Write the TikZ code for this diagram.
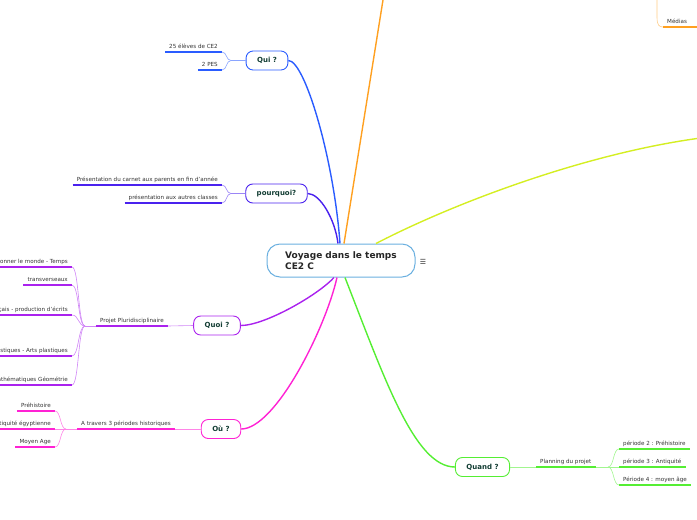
\documentclass[tikz,border=0pt]{standalone}
\usepackage{fontspec}
\setmainfont{DejaVu Sans}
\usetikzlibrary{calc}
\definecolor{ctrb}{HTML}{6BB0E0}
\definecolor{quib}{HTML}{2A5CFF}
\definecolor{pqb}{HTML}{4A22EE}
\definecolor{quoib}{HTML}{AA22EE}
\definecolor{oub}{HTML}{FF22D4}
\definecolor{qdb}{HTML}{55EE33}
\definecolor{org}{HTML}{FFA020}
\definecolor{yel}{HTML}{D4EE22}
\definecolor{txtgray}{HTML}{333333}
\definecolor{topictxt}{HTML}{123D33}
\begin{document}
\begin{tikzpicture}[x=1pt,y=-1pt,
  leaf/.style={inner xsep=4pt, inner ysep=1.8pt, text depth=1.4pt, font=\fontsize{5.6}{6.7}\selectfont, text=txtgray},
  topic/.style={draw=#1, line width=0.9pt, rounded corners=7pt, fill=white, minimum height=19pt, inner xsep=11pt, font=\fontsize{7}{8}\selectfont\bfseries, text=topictxt},
  mainc/.style={line width=1.4pt, draw=#1},
  subc/.style={line width=0.6pt, draw=#1!55},
  uline/.style={line width=1.8pt, draw=#1},
]
\useasboundingbox (0,0) rectangle (697,520);

% central node
\node[draw=ctrb, line width=1pt, rounded corners=13pt, fill=white, minimum width=148pt, minimum height=33pt, align=left, font=\fontsize{9}{11.5}\selectfont\bfseries, text=black!85] (ctr) at (341,260.5) {Voyage dans le temps\\CE2 C};
\node[font=\fontsize{7}{8}\selectfont, text=txtgray] (menu) at (423,262) {☰};

% topic nodes
\node[topic=quib] (qui) at (267,60.5) {Qui ?};
\node[topic=pqb] (pq) at (276.5,193.5) {pourquoi?};
\node[topic=quoib] (quoi) at (217,325.5) {Quoi ?};
\node[topic=oub] (ou) at (221,429) {Où ?};
\node[topic=qdb] (qd) at (482.5,467) {Quand ?};

% leaves
\node[leaf, anchor=south east] (qui1) at (222,52) {25 élèves de CE2};
\node[leaf, anchor=south east] (qui2) at (222,70) {2 PES};
\node[leaf, anchor=south east] (pq1) at (222,185) {Présentation du carnet aux parents en fin d'année};
\node[leaf, anchor=south east] (pq2) at (222,203) {présentation aux autres classes};
\node[leaf, anchor=south east] (pp) at (168,326) {Projet Pluridisciplinaire};
\node[leaf, anchor=south east] (qo1) at (72,267) {Questionner le monde - Temps};
\node[leaf, anchor=south east] (qo2) at (72,285) {transverseaux};
\node[leaf, anchor=south east] (qo3) at (72,315) {Français - production d'écrits};
\node[leaf, anchor=south east] (qo4) at (72,356) {Pratiques artistiques - Arts plastiques};
\node[leaf, anchor=south east] (qo5) at (72,385) {Mathématiques Géométrie};
\node[leaf, anchor=south east] (at) at (175,429) {A travers 3 périodes historiques};
\node[leaf, anchor=south east] (ou1) at (55,411) {Préhistoire};
\node[leaf, anchor=south east] (ou2) at (55,429) {Antiquité égyptienne};
\node[leaf, anchor=south east] (ou3) at (55,447) {Moyen Age};
\node[leaf, anchor=south west] (pl) at (536,467) {Planning du projet};
\node[leaf, anchor=south west] (qd1) at (619,449) {période 2 : Préhistoire};
\node[leaf, anchor=south west] (qd2) at (619,467) {période 3 : Antiquité};
\node[leaf, anchor=south west] (qd3) at (619,485) {Période 4 : moyen âge};
\node[leaf, anchor=south west] (med) at (663,27) {Médias};

% underlines
\foreach \n/\c in {qui1/quib,qui2/quib,pq1/pqb,pq2/pqb,pp/quoib,qo1/quoib,qo2/quoib,qo3/quoib,qo4/quoib,qo5/quoib,at/oub,ou1/oub,ou2/oub,ou3/oub,pl/qdb,qd1/qdb,qd2/qdb,qd3/qdb}
  \draw[uline=\c] (\n.south west) -- (\n.south east);
\draw[uline=org] (med.south west) -- ($(med.south east)+(15,0)$);

% main connectors
\coordinate (orgend) at (386.2,-20);
\coordinate (yelend) at (697,138.5);
\draw[mainc=quib] (qui.east) .. controls (305,60.5) and (334,160) .. ([xshift=-1pt]ctr.north);
\draw[mainc=pqb] (pq.east) .. controls (320,193.5) and (335,219) .. ([xshift=-3pt]ctr.north);
\draw[mainc=org] ([xshift=3pt]ctr.north) -- (orgend);
\draw[mainc=yel] ([xshift=35pt]ctr.north) .. controls (450,205) and (580,155) .. (yelend);
\draw[mainc=quoib] (quoi.east) .. controls (265,325.5) and (318,295) .. ([xshift=-7pt]ctr.south);
\draw[mainc=oub] (ou.east) .. controls (275,429) and (325,330) .. ([xshift=-4pt]ctr.south);
\draw[mainc=qdb] ([xshift=4pt]ctr.south) .. controls (385,380) and (415,467) .. (qd.west);

% sub connectors
\coordinate (bqui) at (231,60.5);
\draw[subc=quib] (qui.west) -- (bqui);
\foreach \n in {qui1,qui2}
  \draw[subc=quib] (bqui) .. controls ($(bqui)+(-5,0)$) and ($(\n.south east)+(5,0)$) .. (\n.south east);
\coordinate (bpq) at (231,193.5);
\draw[subc=pqb] (pq.west) -- (bpq);
\foreach \n in {pq1,pq2}
  \draw[subc=pqb] (bpq) .. controls ($(bpq)+(-5,0)$) and ($(\n.south east)+(5,0)$) .. (\n.south east);
\coordinate (bquoi) at (85,326);
\draw[subc=quoib] (quoi.west) -- (pp.south east);
\draw[subc=quoib] (pp.south west) -- (bquoi);
\foreach \n in {qo1,qo2,qo3,qo4,qo5}
  \draw[subc=quoib] (bquoi) .. controls ($(bquoi)+(-7,0)$) and ($(\n.south east)+(7,0)$) .. (\n.south east);
\coordinate (bou) at (66,429);
\draw[subc=oub] (ou.west) -- (at.south east);
\draw[subc=oub] (at.south west) -- (bou);
\foreach \n in {ou1,ou2,ou3}
  \draw[subc=oub] (bou) .. controls ($(bou)+(-6,0)$) and ($(\n.south east)+(6,0)$) .. (\n.south east);
\coordinate (bqd) at (608,467);
\draw[subc=qdb] (qd.east) -- (pl.south west);
\draw[subc=qdb] (pl.south east) -- (bqd);
\foreach \n in {qd1,qd2,qd3}
  \draw[subc=qdb] (bqd) .. controls ($(bqd)+(6,0)$) and ($(\n.south west)+(-6,0)$) .. (\n.south west);
\coordinate (bmed) at (657,-20);
\draw[subc=org] (bmed) -- (657,17) .. controls (657,25) and (659,27) .. (med.south west);
\end{tikzpicture}
\end{document}
